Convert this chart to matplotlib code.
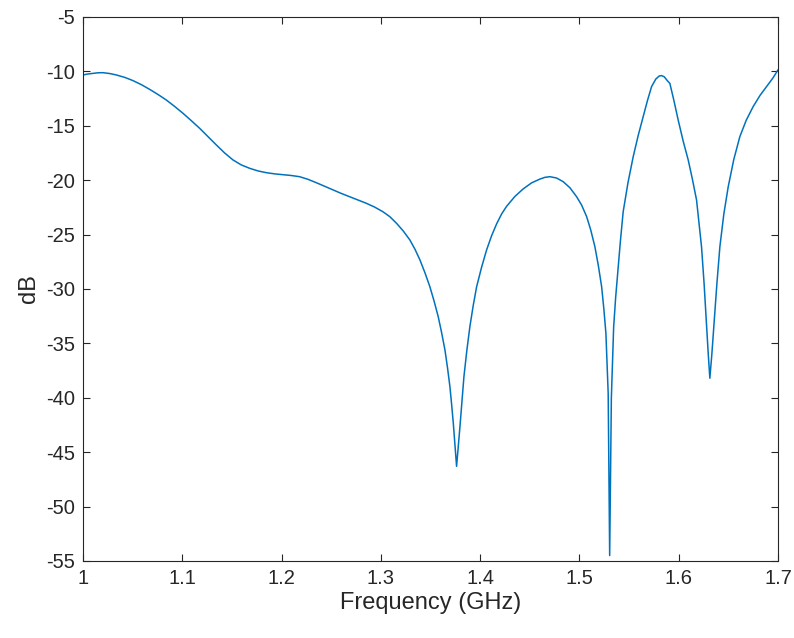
import matplotlib
matplotlib.use("Agg")
import matplotlib.pyplot as plt

# values
freq = [1.000, 1.005, 1.0101, 1.0151, 1.0201, 1.027, 1.0336, 1.042, 1.0504, 1.0588,
        1.0671, 1.0755, 1.0839, 1.0923, 1.1007, 1.1091, 1.1175, 1.1259, 1.1343, 1.1427,
        1.1511, 1.1595, 1.1679, 1.1763, 1.1846, 1.1930, 1.2014, 1.2098, 1.2182, 1.2266,
        1.235, 1.2434, 1.2518, 1.2602, 1.2686, 1.277, 1.2853, 1.2937, 1.3021, 1.309,
        1.3159, 1.3226, 1.3293, 1.3344, 1.3394, 1.3444, 1.3494, 1.3536, 1.3578, 1.3612,
        1.3646, 1.3671, 1.3696, 1.3713, 1.373, 1.3747, 1.3763, 1.378, 1.3797, 1.3817,
        1.3837, 1.3867, 1.3897, 1.3931, 1.3965, 1.4015, 1.4065, 1.4116, 1.4167, 1.4217,
        1.4267, 1.435, 1.4434, 1.4518, 1.4602, 1.4653, 1.4703, 1.477, 1.4837, 1.4905,
        1.4972, 1.5023, 1.5073, 1.5115, 1.5156, 1.519, 1.5224, 1.5246, 1.5267, 1.529,
        1.5305, 1.5322, 1.5345, 1.5365, 1.5385, 1.5413, 1.5441, 1.549, 1.5542, 1.5592,
        1.5643, 1.5685, 1.5727, 1.577, 1.5805, 1.5828, 1.5855, 1.5885, 1.5911, 1.595,
        1.5995, 1.6045, 1.6096, 1.6138, 1.618, 1.623, 1.6256, 1.6281, 1.6298, 1.6314,
        1.6334, 1.6354, 1.6385, 1.6415, 1.6455, 1.6499, 1.6555, 1.6616, 1.668, 1.675,
        1.682, 1.6885, 1.695, 1.700]
db = [-10.33, -10.24, -10.18, -10.13, -10.12, -10.2, -10.33, -10.55, -10.85, -11.22,
      -11.65, -12.12, -12.63, -13.22, -13.85, -14.53, -15.23, -16.0, -16.76, -17.5,
      -18.14, -18.6, -18.91, -19.15, -19.31, -19.42, -19.49, -19.57, -19.68, -19.92,
      -20.23, -20.56, -20.9, -21.22, -21.52, -21.81, -22.12, -22.47, -22.9, -23.35,
      -23.97, -24.67, -25.5, -26.35, -27.33, -28.5, -29.79, -31.1, -32.54, -34.0,
      -35.61, -37.2, -38.98, -40.6, -42.34, -44.4, -46.3, -44.5, -42.65, -40.3,
      -38.06, -35.6, -33.46, -31.5, -29.79, -28.0, -26.42, -25.1, -24.0, -23.1,
      -22.4, -21.5, -20.8, -20.25, -19.9, -19.74, -19.68, -19.8, -20.14, -20.7,
      -21.52, -22.3, -23.35, -24.6, -26.11, -27.8, -29.79, -31.8, -34.07, -39.59,
      -54.5, -40.0, -33.5, -30.8, -28.6, -25.6, -22.9, -20.2, -17.84, -15.9,
      -14.16, -12.7, -11.4, -10.7, -10.42, -10.39, -10.5, -10.85, -11.1, -12.6,
      -14.47, -16.4, -18.14, -19.9, -21.82, -26.11, -29.5, -33.46, -36.0, -38.2,
      -36.0, -33.46, -29.5, -26.11, -23.1, -20.6, -18.1, -16.0, -14.5, -13.24,
      -12.2, -11.4, -10.6, -9.87]

x_ticks = [1, 1.1, 1.2, 1.3, 1.4, 1.5, 1.6, 1.7]
x_labels = ["1", "1.1", "1.2", "1.3", "1.4", "1.5", "1.6", "1.7"]
y_ticks = [-55, -50, -45, -40, -35, -30, -25, -20, -15, -10, -5]

plt.rcParams['font.family'] = ['Liberation Sans', 'DejaVu Sans']
plt.rcParams['axes.unicode_minus'] = False
axis_col = '#262626'

fig = plt.figure(figsize=(7.94, 6.38), dpi=100)
ax = fig.add_axes([0.1045, 0.1207, 0.8753, 0.8527])
ax.plot(freq, db, color='#0072BD', linewidth=1.1)

ax.set_xlim(1, 1.7)
ax.set_ylim(-55, -5)
ax.set_xticks(x_ticks)
ax.set_xticklabels(x_labels)
ax.set_yticks(y_ticks)
ax.tick_params(direction='in', top=True, right=True, length=5, width=0.8,
               colors=axis_col, labelsize=14.5, pad=6)
for s in ax.spines.values():
    s.set_color(axis_col)
    s.set_linewidth(0.8)
ax.set_xlabel('Frequency (GHz)', fontsize=17, color=axis_col, labelpad=3)
ax.set_ylabel('dB', fontsize=17, color=axis_col, labelpad=4)

fig.savefig('out.png', dpi=100)
